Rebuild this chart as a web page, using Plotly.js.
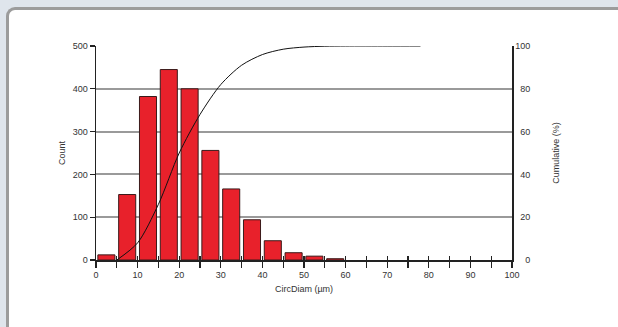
<!DOCTYPE html>
<html>
<head>
<meta charset="utf-8">
<script src="https://cdn.plot.ly/plotly-3.0.1.min.js"></script>
<style>
  html, body { margin:0; padding:0; width:618px; height:327px; overflow:hidden; background:#dfe5ec; }
  #panel { position:absolute; left:6px; top:7px; width:620px; height:330px; background:#ffffff;
           border-left:3px solid #9c9c9c; border-top:3px solid #9c9c9c; border-top-left-radius:9px; }
  #chart { position:absolute; left:0; top:0; width:618px; height:327px; }
</style>
</head>
<body>
<div id="panel"></div>
<div id="chart"></div>
<script>
// Histogram bins (µm) and counts
const binCenters = [2.5, 7.5, 12.5, 17.5, 22.5, 27.5, 32.5, 37.5, 42.5, 47.5, 52.5, 57.5];
const counts     = [12, 153, 382, 445, 400, 256, 166, 94, 45, 17, 9, 3];

// Cumulative curve (%)
const cumX = [5, 10, 15, 20, 25, 30, 35, 40, 45, 50, 55, 60, 70, 78];
const cumY = [0, 8, 26, 50, 68, 82, 91, 96, 98.5, 99.5, 99.9, 100, 100, 100];

// Tick labels
const xTickVals = [0,5,10,15,20,25,30,35,40,45,50,55,60,65,70,75,80,85,90,95,100];
const xTickText = ['0','','10','','20','','30','','40','','50','','60','','70','','80','','90','','100'];
const y2TickVals = [0, 20, 40, 60, 80, 100];
const y2TickText = ['\u2007\u20070', '\u200720', '\u200740', '\u200760', '\u200780', '100'];

const font = {family: 'Liberation Sans, Arial, sans-serif', size: 9, color: '#333333'};

const traces = [
  {
    type: 'bar', x: binCenters, y: counts, width: 4.1,
    marker: {color: '#e8212b', line: {color: '#3a1a1a', width: 1}},
    xaxis: 'x', yaxis: 'y', hoverinfo: 'none'
  },
  {
    type: 'scatter', mode: 'lines', x: cumX, y: cumY,
    line: {color: '#111111', width: 1, shape: 'spline', smoothing: 0.8},
    xaxis: 'x', yaxis: 'y2', hoverinfo: 'none'
  },
  {
    type: 'scatter', mode: 'lines', x: [0], y: [0],
    xaxis: 'x2', yaxis: 'y', hoverinfo: 'none', showlegend: false, line: {width: 0}
  }
];

const layout = {
  width: 618, height: 327,
  margin: {l: 96, r: 106, t: 46, b: 67},
  paper_bgcolor: 'rgba(0,0,0,0)', plot_bgcolor: 'rgba(0,0,0,0)',
  showlegend: false, font: font,
  xaxis: {
    range: [0, 100], tickmode: 'array', tickvals: xTickVals, ticktext: xTickText,
    ticks: 'outside', ticklen: 6, tickwidth: 1.2, tickcolor: '#222',
    showline: true, linecolor: '#222', linewidth: 1.5, showgrid: false, zeroline: false,
    tickfont: font,
    title: {text: 'CircDiam (µm)', font: font, standoff: 6}
  },
  xaxis2: {
    overlaying: 'x', range: [0, 100], tickmode: 'array', tickvals: xTickVals,
    showticklabels: false, ticks: 'inside', ticklen: 4, tickwidth: 1.2, tickcolor: '#222',
    showgrid: false, zeroline: false, showline: false, anchor: 'y', side: 'bottom'
  },
  yaxis: {
    range: [0, 500], dtick: 100, ticks: 'outside', ticklen: 5, tickwidth: 1.2, tickcolor: '#222',
    showline: true, linecolor: '#222', linewidth: 1.5,
    showgrid: true, gridcolor: '#9a9a9a', gridwidth: 2, zeroline: false,
    tickfont: font,
    title: {text: 'Count', font: font, standoff: 5}
  },
  yaxis2: {
    overlaying: 'y', side: 'right', range: [0, 100],
    tickmode: 'array', tickvals: y2TickVals, ticktext: y2TickText,
    ticks: '', showline: true, linecolor: '#222', linewidth: 1.5,
    showgrid: false, zeroline: false, tickfont: font,
    title: {text: 'Cumulative (%)', font: font, standoff: 23}
  }
};

Plotly.newPlot('chart', traces, layout, {staticPlot: true, displayModeBar: false});
</script>
</body>
</html>
